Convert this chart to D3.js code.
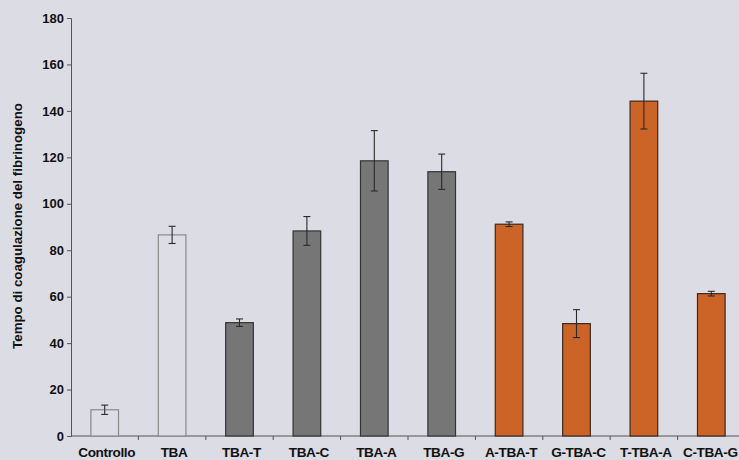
<!DOCTYPE html>
<html>
<head>
<meta charset="utf-8">
<script src="https://cdn.jsdelivr.net/npm/d3@7"></script>
<style>
  html, body { margin: 0; padding: 0; background: #dcdce4; }
  svg { display: block; }
</style>
</head>
<body>
<svg id="chart"></svg>
<script>
// dati
const categories = ["Controllo", "TBA", "TBA-T", "TBA-C", "TBA-A", "TBA-G", "A-TBA-T", "G-TBA-C", "T-TBA-A", "C-TBA-G"];
const values = [11.3, 86.6, 48.8, 88.3, 118.5, 113.8, 91.2, 48.4, 144.2, 61.3];
const errors = [2.0, 3.7, 1.6, 6.2, 13.0, 7.6, 1.0, 6.0, 12.0, 1.0];
const groups = ["ctrl", "ctrl", "mod", "mod", "mod", "mod", "ext", "ext", "ext", "ext"];
const yTicks = [0, 20, 40, 60, 80, 100, 120, 140, 160, 180];

const width = 739, height = 460;
const margin = {top: 18, right: -6, bottom: 24, left: 71};

const fillPolicy = {ctrl: "#dddde5", mod: "#767676", ext: "#cc6327"};
const strokePolicy = {ctrl: "#8a8a8a", mod: "#333333", ext: "#3a2a20"};

const svg = d3.select("#chart")
    .attr("width", width)
    .attr("height", height);

const x = d3.scaleBand()
    .domain(categories)
    .range([margin.left, width - margin.right])
    .paddingInner(0.59)
    .paddingOuter(0.295);

const y = d3.scaleLinear()
    .domain([0, 180])
    .range([height - margin.bottom, margin.top]);

const font = "Arial, 'Liberation Sans', sans-serif";

// asse y
const yAxis = svg.append("g")
    .attr("transform", `translate(${margin.left},0)`)
    .call(d3.axisLeft(y).tickValues(yTicks).tickSize(4).tickPadding(3));
yAxis.select(".domain").attr("stroke", "#555");
yAxis.selectAll(".tick line").attr("stroke", "#555");
yAxis.selectAll(".tick text")
    .attr("font-family", font)
    .attr("font-size", 13)
    .attr("font-weight", "bold")
    .attr("fill", "#111");

// asse x: tacche ai bordi delle categorie
const step = x.step();
const xEdges = categories.map((c, i) => margin.left + step * (i + 1));
const xAxis = svg.append("g");
xAxis.append("line")
    .attr("x1", margin.left).attr("x2", width)
    .attr("y1", y(0)).attr("y2", y(0))
    .attr("stroke", "#555");
xAxis.selectAll("line.tick")
    .data(xEdges)
    .join("line")
    .attr("class", "tick")
    .attr("x1", d => d).attr("x2", d => d)
    .attr("y1", y(0)).attr("y2", y(0) + 4)
    .attr("stroke", "#555");
xAxis.selectAll("text")
    .data(categories)
    .join("text")
    .attr("x", (d, i) => x(d) + x.bandwidth() / 2 + (i == categories.length - 1 ? -1 : 2))
    .attr("y", y(0) + 21)
    .attr("text-anchor", "middle")
    .attr("font-family", font)
    .attr("font-size", 13.6)
    .attr("font-weight", "bold")
    .attr("letter-spacing", -0.4)
    .attr("fill", "#111")
    .text(d => d);

// barre
svg.append("g")
    .selectAll("rect")
    .data(categories)
    .join("rect")
    .attr("x", d => x(d))
    .attr("y", (d, i) => y(values[i]))
    .attr("width", x.bandwidth())
    .attr("height", (d, i) => y(0) - y(values[i]))
    .attr("fill", (d, i) => fillPolicy[groups[i]])
    .attr("stroke", (d, i) => strokePolicy[groups[i]])
    .attr("stroke-width", 1.2);

// barre di errore
const err = svg.append("g")
    .selectAll("g")
    .data(categories)
    .join("g")
    .attr("stroke", "#2a2a2a")
    .attr("stroke-width", 1.1);
err.append("line")
    .attr("x1", d => x(d) + x.bandwidth() / 2)
    .attr("x2", d => x(d) + x.bandwidth() / 2)
    .attr("y1", (d, i) => y(values[i] + errors[i]))
    .attr("y2", (d, i) => y(values[i] - errors[i]));
[1, -1].forEach(s => {
    err.append("line")
        .attr("x1", d => x(d) + x.bandwidth() / 2 - 3.5)
        .attr("x2", d => x(d) + x.bandwidth() / 2 + 3.5)
        .attr("y1", (d, i) => y(values[i] + s * errors[i]))
        .attr("y2", (d, i) => y(values[i] + s * errors[i]));
});

// titolo asse y
svg.append("text")
    .attr("transform", `translate(22, 226) rotate(-90)`)
    .attr("text-anchor", "middle")
    .attr("font-family", font)
    .attr("font-size", 13.3)
    .attr("font-weight", "bold")
    .attr("fill", "#111")
    .text("Tempo di coagulazione del fibrinogeno");
</script>
</body>
</html>
